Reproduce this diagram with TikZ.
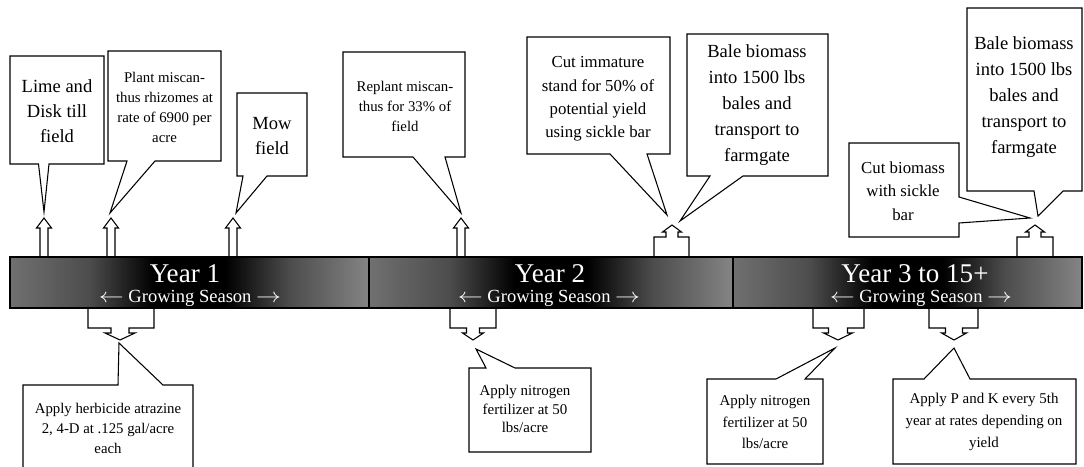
\documentclass[tikz,border=0pt]{standalone}
\usepackage{fontspec}
\usepackage{graphicx}
\setmainfont{Liberation Serif}
\definecolor{barL}{gray}{0.44}
\definecolor{barLm}{gray}{0.30}
\definecolor{barRm}{gray}{0.30}
\definecolor{barR}{gray}{0.52}
\pgfdeclarehorizontalshading{barshade}{100bp}{color(0bp)=(barL); color(25bp)=(barL); color(36bp)=(barLm); color(45bp)=(black); color(55bp)=(black); color(64bp)=(barRm); color(75bp)=(barR); color(100bp)=(barR)}
\newcommand{\calloutdown}[8]{\draw[cbox] (#1,#2) -- (#3,#2) -- (#3,#4) -- (#6,#4) -- (#7,#8) -- (#5,#4) -- (#1,#4) -- cycle;}
\newcommand{\calloutup}[8]{\draw[cbox] (#1,#4) -- (#1,#2) -- (#5,#2) -- (#7,#8) -- (#6,#2) -- (#3,#2) -- (#3,#4) -- cycle;}
\newcommand{\blockup}[1]{\draw[cbox] ({#1-4},257) -- ({#1-4},228) -- ({#1-7.5},228) -- (#1,218) -- ({#1+7.5},228) -- ({#1+4},228) -- ({#1+4},257);}
\newcommand{\brackup}[3]{\draw[cbox] (#1,257) -- (#1,237) -- ({#3-6},237) -- ({#3-6},232) -- ({#3-9.5},232) -- (#3,225) -- ({#3+9.5},232) -- ({#3+6},232) -- ({#3+6},237) -- (#2,237) -- (#2,257);}
\newcommand{\brackdown}[5]{\draw[cbox] (#1,308) -- (#1,328) -- ({#3-#4},328) -- ({#3-#4},333) -- ({#3-#5},333) -- (#3,340) -- ({#3+#5},333) -- ({#3+#4},333) -- ({#3+#4},328) -- (#2,328) -- (#2,308);}
\newcommand{\seasonline}{\scalebox{1.3}[1.05]{$\leftarrow$}\ Growing Season \scalebox{1.3}[1.05]{$\rightarrow$}}
\begin{document}
\begin{tikzpicture}[x=0.75pt,y=-0.75pt,line width=0.8pt,
  cbox/.style={draw=black,fill=white,line join=miter},
  txt/.style={align=center,inner sep=0pt,text=black},
  bigA/.style={txt,font=\fontsize{13.9}{18.8}\selectfont},
  bigB/.style={txt,font=\fontsize{13.9}{19.6}\selectfont},
  medA/.style={txt,font=\fontsize{12.6}{17.6}\selectfont},
  smallA/.style={txt,font=\fontsize{11.1}{15}\selectfont},
  smallB/.style={txt,font=\fontsize{11.2}{14}\selectfont},
  smallC/.style={txt,font=\fontsize{11.2}{16.2}\selectfont},
  yeartxt/.style={inner sep=0pt,text=white,font=\fontsize{20.3}{24}\selectfont},
  growtxt/.style={inner sep=0pt,text=white,font=\fontsize{13.9}{16}\selectfont}]
\useasboundingbox (0,0) rectangle (1084,467);
\clip (0,0) rectangle (1084,467);
\fill[white] (0,0) rectangle (1084,467);

% top callouts
\calloutdown{10}{56}{104}{164}{38.5}{49}{44}{212}
\calloutdown{108}{51}{221}{161}{127}{155}{110}{213}
\calloutdown{237}{93}{307}{176}{243}{267}{236}{213}
\calloutdown{343}{52}{465}{157}{413}{445}{461}{213}
\calloutdown{527}{37}{670}{154}{610}{647}{667}{215}
\calloutdown{687}{34}{828}{176}{710}{743}{680}{221}
\draw[cbox] (849,143) -- (959,143) -- (959,197) -- (1030,218) -- (959,223) -- (959,237) -- (849,237) -- cycle;
\calloutdown{967}{8}{1082}{191}{1034}{1063}{1038}{216}

\node[bigA] (lime) at (57,111) {Lime and\\Disk till\\field};
\node[smallA] (plant) at (164.5,107) {Plant miscan-\\thus rhizomes at\\rate of 6900 per\\acre};
\node[bigA] (mow) at (272,136) {Mow\\field};
\node[smallA] (replant) at (405,106) {Replant miscan-\\thus for 33\% of\\field};
\node[medA] (cutimm) at (598,99) {Cut immature\\stand for 50\% of\\potential yield\\using sickle bar};
\node[bigB] (bale1) at (757,105) {Bale biomass\\into 1500 lbs\\bales and\\transport to\\farmgate};
\node[medA] (cutbio) at (903,191) {Cut biomass\\with sickle\\bar};
\node[bigB] (bale2) at (1024,97) {Bale biomass\\into 1500 lbs\\bales and\\transport to\\farmgate};

% arrows into the bar (top)
\blockup{44}
\blockup{111}
\blockup{233}
\blockup{461}
\brackup{654}{689}{672}
\brackup{1017}{1053}{1035}

% bottom brackets
\brackdown{88}{154}{120}{9}{15}
\brackdown{450}{496}{473}{6.5}{10.5}
\brackdown{813}{864}{838}{9.5}{14.5}
\brackdown{929}{978}{954}{8.5}{12.5}

% bottom callouts
\calloutup{23}{385}{193}{480}{118}{163}{119}{343}
\calloutup{469}{368}{591}{452}{486}{515}{476}{349}
\calloutup{707}{379}{823}{464}{776}{805}{835}{348}
\calloutup{893}{379}{1076}{464}{924}{970}{954}{348}

\node[smallA] (herb) at (108,428) {Apply herbicide atrazine\\2, 4-D at .125 gal/acre\\each};
\node[smallB] (nit1) at (525,409) {Apply nitrogen\\fertilizer at 50\\lbs/acre};
\node[smallC] (nit2) at (765,422) {Apply nitrogen\\fertilizer at 50\\lbs/acre};
\node[smallC] (pk) at (984,422) {Apply P and K every 5th\\year at rates depending on\\yield};

% timeline bar
\path[shading=barshade] (10,257) rectangle (369,308);
\path[shading=barshade] (369,257) rectangle (733,308);
\path[shading=barshade] (733,257) rectangle (1082,308);
\draw (10,257) rectangle (1082,308);
\draw (369,257) -- (369,308);
\draw (733,257) -- (733,308);

\node[yeartxt,anchor=base] (y1) at (185,282) {Year 1};
\node[yeartxt,anchor=base] (y2) at (550,282) {Year 2};
\node[yeartxt,anchor=base] (y3) at (915,282) {Year 3 to 15+};
\node[growtxt,anchor=base] (g1) at (190,302) {\seasonline};
\node[growtxt,anchor=base] (g2) at (549,302) {\seasonline};
\node[growtxt,anchor=base] (g3) at (921,302) {\seasonline};
\end{tikzpicture}
\end{document}
